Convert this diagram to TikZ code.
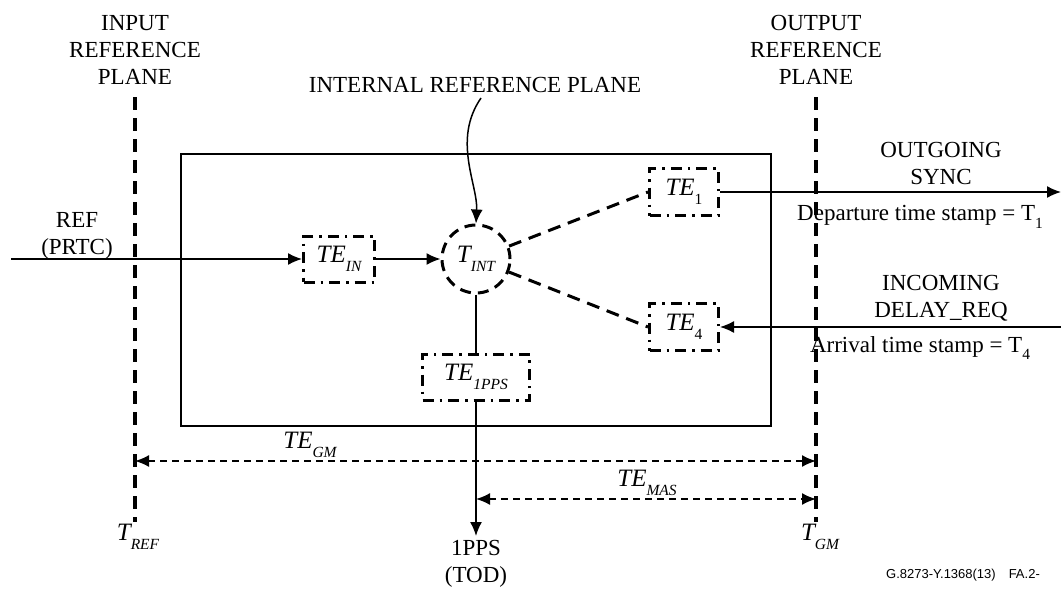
\documentclass[tikz,border=0pt]{standalone}
\usepackage{fontspec}
\setmainfont{Liberation Serif}
\newfontfamily\footfont{Liberation Sans}
\usetikzlibrary{arrows.meta}
\newcommand{\tsb}[2]{#1\raisebox{-0.34em}{\fontsize{15.5}{15.5}\selectfont #2}}
\begin{document}
\begin{tikzpicture}[x=1pt,y=-1pt,
 txt/.style={font=\fontsize{23}{27}\selectfont, align=center, inner sep=0pt},
 itl/.style={font=\fontsize{25}{25}\selectfont\itshape, inner sep=0pt},
 plane/.style={line width=3.2pt, dash pattern=on 13pt off 8pt},
 tebox/.style={draw, line width=3pt, dash pattern=on 11pt off 6pt on 2.5pt off 6pt, inner sep=0pt, font=\fontsize{25}{25}\selectfont\itshape},
 arr/.style={line width=1.5pt, -{Latex[length=14pt,width=12pt]}},
 dimarr/.style={line width=1.7pt, dash pattern=on 7pt off 5pt, {Latex[length=14pt,width=12pt]}-{Latex[length=14pt,width=12pt]}},
 dline/.style={line width=3pt, dash pattern=on 13pt off 8pt},
]
\useasboundingbox (0,0) rectangle (1061,589);

% reference planes
\coordinate (inTop) at (135,97);
\coordinate (inBot) at (135,522);
\coordinate (outTop) at (816,97);
\coordinate (outBot) at (816,522);
\draw[plane] (inTop) -- (inBot);
\draw[plane] (outTop) -- (outBot);
\node[txt] (inlbl) at (135,50) {INPUT\\REFERENCE\\PLANE};
\node[txt] (outlbl) at (816,50) {OUTPUT\\REFERENCE\\PLANE};
\node[txt] (intlbl) at (475,85) {INTERNAL REFERENCE PLANE};

% outer box
\node[draw, line width=1.5pt, minimum width=590pt, minimum height=272pt, inner sep=0pt] (box) at (476,290) {};

% blocks
\node[tebox, minimum width=71pt, minimum height=46pt] (tein) at (339,259) {\tsb{TE}{IN}};
\node[circle, draw, line width=3pt, dash pattern=on 11pt off 7pt, minimum size=68pt, inner sep=0pt, font=\fontsize{25}{25}\selectfont\itshape] (tint) at (476,259) {\tsb{T}{INT}};
\node[tebox, minimum width=69pt, minimum height=47pt] (te1) at (684,192) {\tsb{TE}{\upshape 1}};
\node[tebox, minimum width=69pt, minimum height=47pt] (te4) at (684,327) {\tsb{TE}{\upshape 4}};
\node[tebox, minimum width=107pt, minimum height=46pt] (te1pps) at (476,377) {\tsb{TE}{1PPS}};

% connectors
\coordinate (refstart) at (11,259);
\draw[arr] (refstart) -- (tein.west);
\draw[arr] (tein.east) -- (tint.west);
\draw[dline] (tint) -- (te1.west);
\draw[dline] (tint) -- (te4.west);
\draw[line width=1.5pt] (tint.south) -- (te1pps.north);
\coordinate (ppsend) at (476,536);
\draw[arr] (te1pps.south) -- (ppsend);
\coordinate (syncend) at (1061,192);
\draw[arr] (te1.east) -- (syncend);
\coordinate (delstart) at (1061,327);
\draw[arr] (delstart) -- (te4.east);
\coordinate (curvetop) at (481,98);
\draw[arr] (curvetop) .. controls (452,140) and (478,185) .. (tint.north);

% dimension arrows
\coordinate (gmL) at (135,461);
\coordinate (gmR) at (816,461);
\draw[dimarr] (gmL) -- (gmR);
\coordinate (masL) at (476,499);
\coordinate (masR) at (816,499);
\draw[dimarr] (masL) -- (masR);

% labels
\node[itl] (tegm) at (310,445) {\tsb{TE}{GM}};
\node[itl] (temas) at (647,483) {\tsb{TE}{MAS}};
\node[itl] (tref) at (138,537) {\tsb{T}{REF}};
\node[itl] (tgm) at (820,537) {\tsb{T}{GM}};
\node[txt] (pps) at (476,564) {1PPS\\(TOD)};
\node[txt] (ref) at (77,236) {REF\\(PRTC)};
\node[txt] (outsync) at (941,163) {OUTGOING\\SYNC};
\node[txt] (dep) at (920,217) {Departure time stamp = \tsb{T}{1}};
\node[txt] (inc) at (941,298) {INCOMING\\DELAY\_REQ};
\node[txt] (arrlbl) at (920,348) {Arrival time stamp = \tsb{T}{4}};
\node[font=\footfont\fontsize{13}{13}\selectfont, inner sep=0pt] (fig) at (963,575) {G.8273-Y.1368(13)\quad FA.2-};
\end{tikzpicture}
\end{document}
